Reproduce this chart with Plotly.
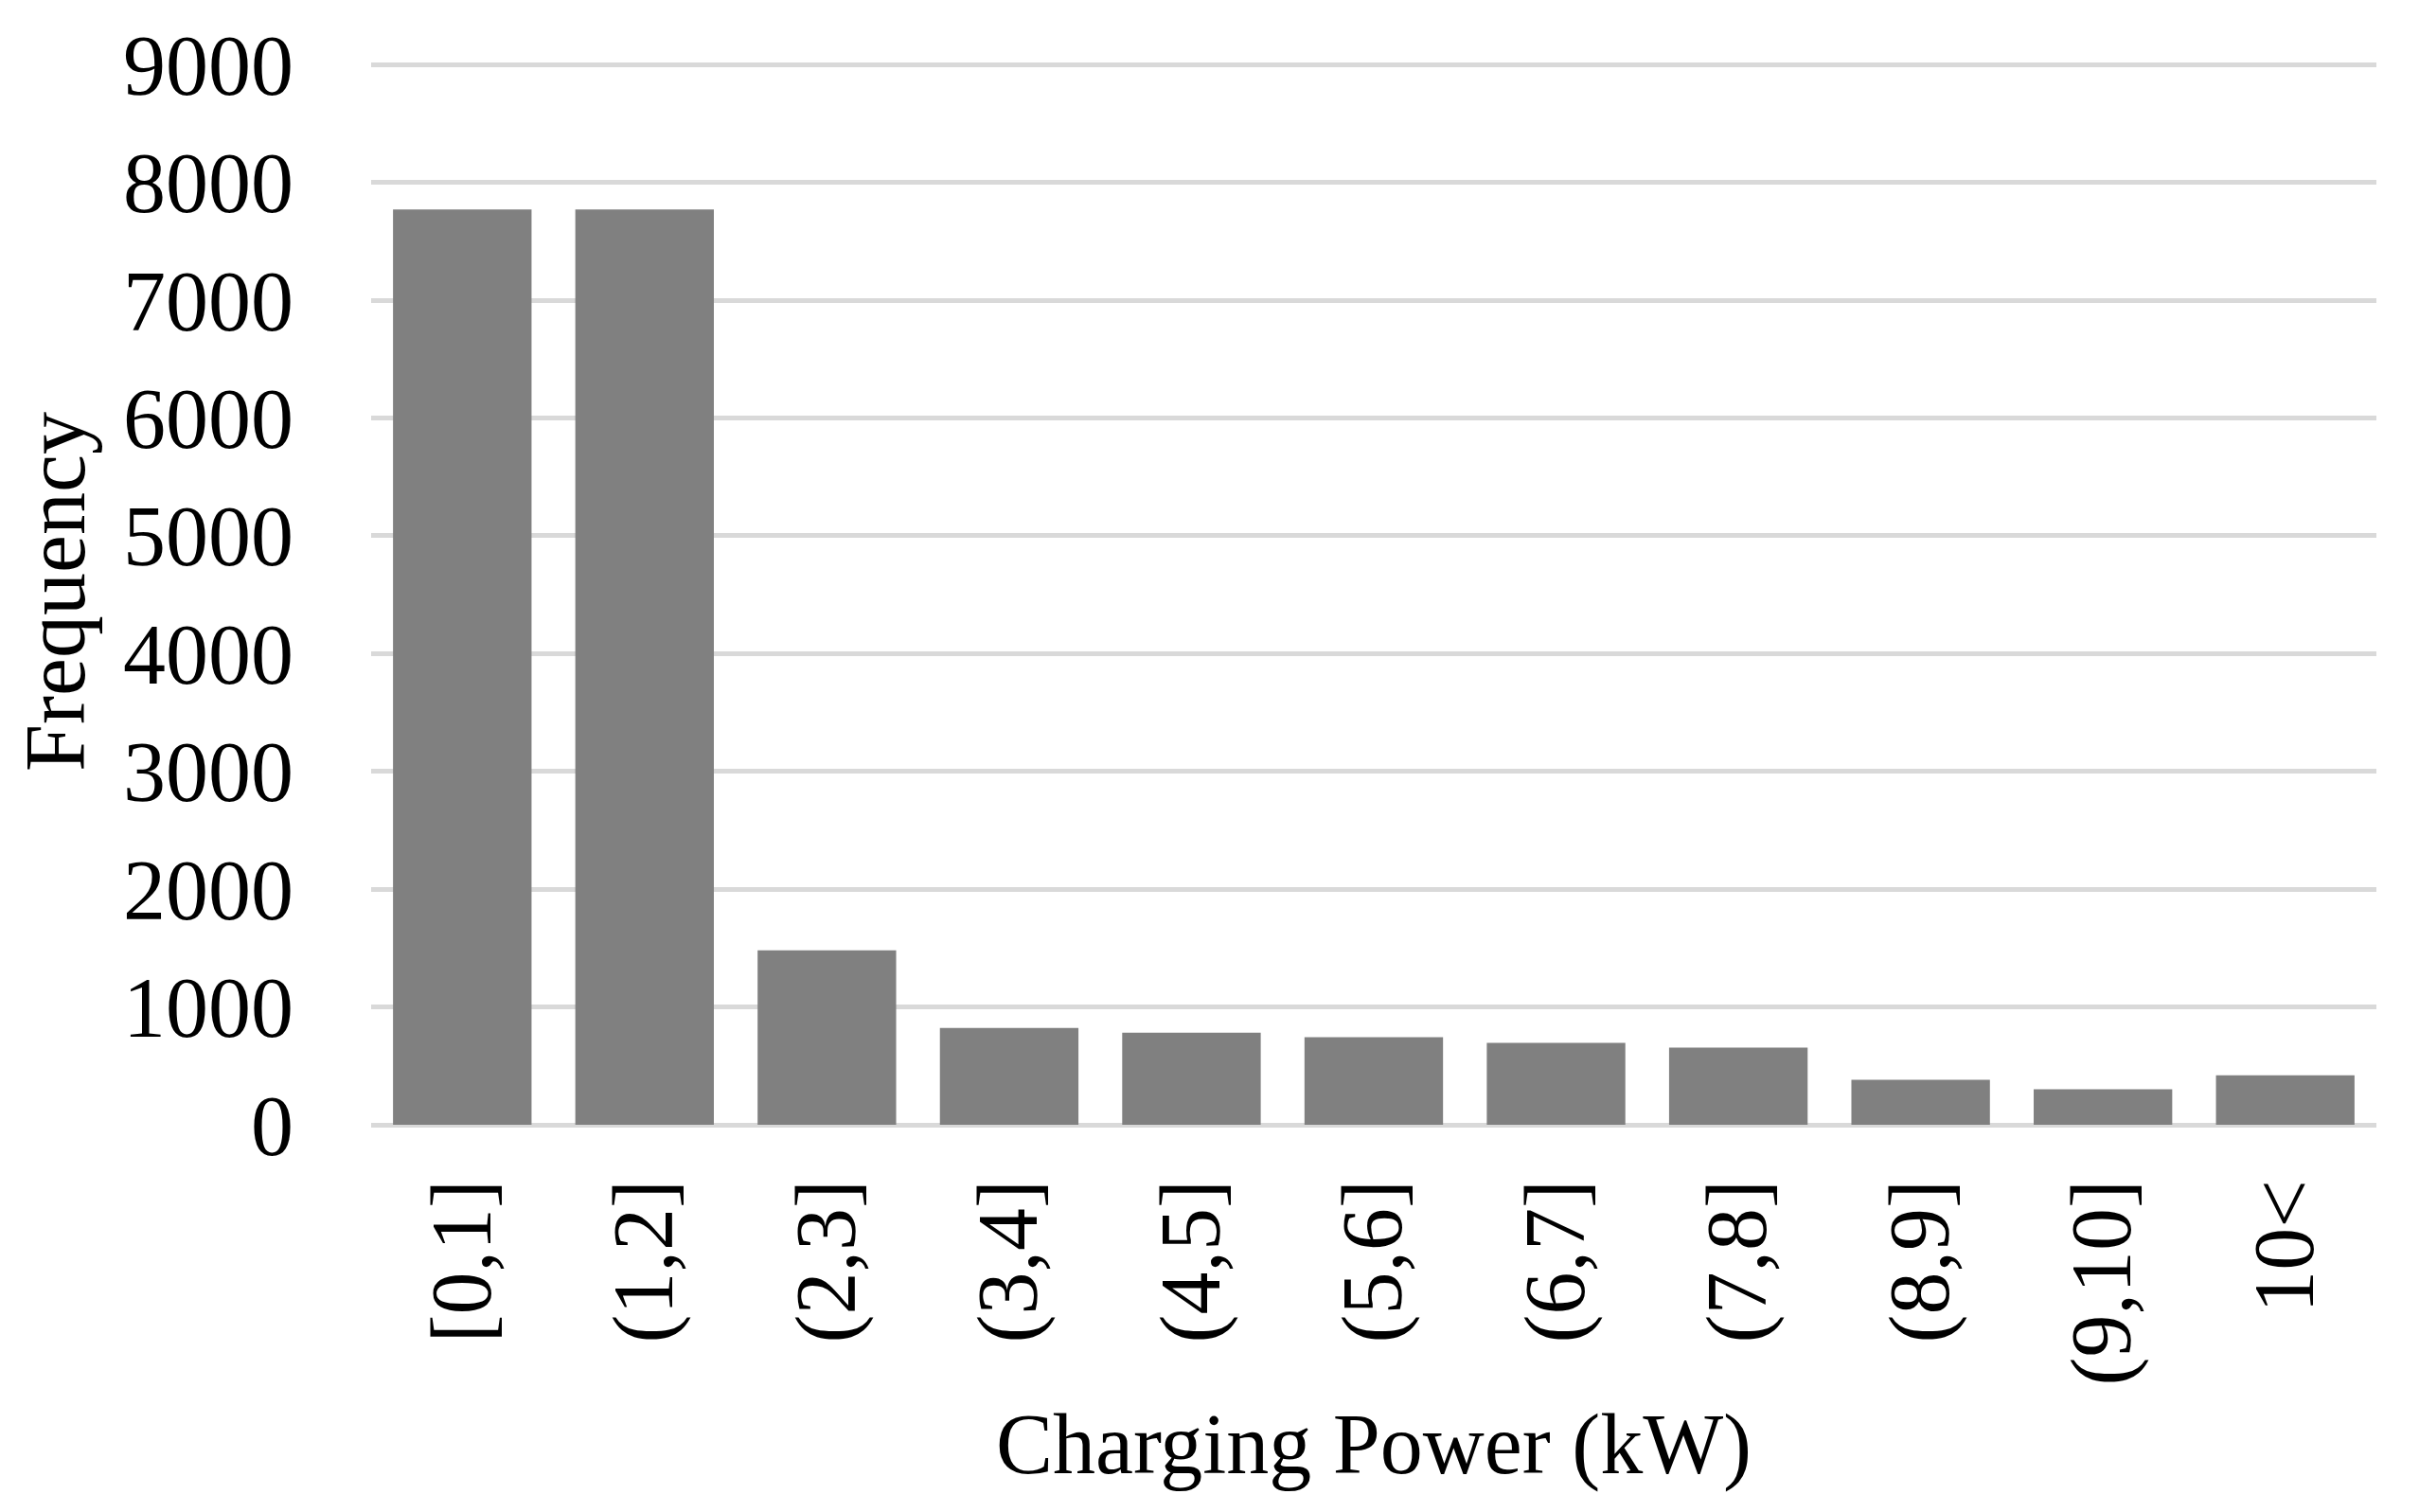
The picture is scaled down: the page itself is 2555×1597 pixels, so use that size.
import plotly.graph_objects as go

# Charging power bins and counts
power_bins = ["[0,1]", "(1,2]", "(2,3]", "(3,4]", "(4,5]", "(5,6]",
              "(6,7]", "(7,8]", "(8,9]", "(9,10]", "10<"]
frequency = [7770, 7770, 1480, 822, 782, 743, 696, 656, 381, 302, 420]

y_ticks = list(range(0, 9001, 1000))

font_name = "Liberation Serif"

fig = go.Figure()

fig.add_trace(
    go.Bar(
        x=power_bins,
        y=frequency,
        marker=dict(color="#808080", line_width=0),
        name="Frequency"))

fig.update_layout(
    width=2555,
    height=1597,
    margin=dict(l=384, r=53, t=54, b=417),
    plot_bgcolor="white",
    paper_bgcolor="white",
    bargap=0.24,
    showlegend=False,
    font=dict(family=font_name, size=90, color="black"),
)

fig.update_xaxes(
    title=dict(text="Charging Power (kW)", font=dict(size=90), standoff=30),
    tickangle=-90,
    ticks="",
    ticklabelstandoff=39,
    showgrid=False,
    showline=False,
    automargin=False,
)

# top of range pushed a little past 9000 so the 9000 gridline isn't dropped at the edge
fig.update_yaxes(
    title=dict(text="Frequency", font=dict(size=90), standoff=10),
    range=[0, 9050],
    tickvals=y_ticks,
    ticks="",
    ticklabelstandoff=81,
    showgrid=True,
    gridcolor="#d9d9d9",
    gridwidth=4.5,
    zeroline=True,
    zerolinecolor="#d9d9d9",
    zerolinewidth=4.5,
    showline=False,
    automargin=False,
)

fig.write_html("out.html")
